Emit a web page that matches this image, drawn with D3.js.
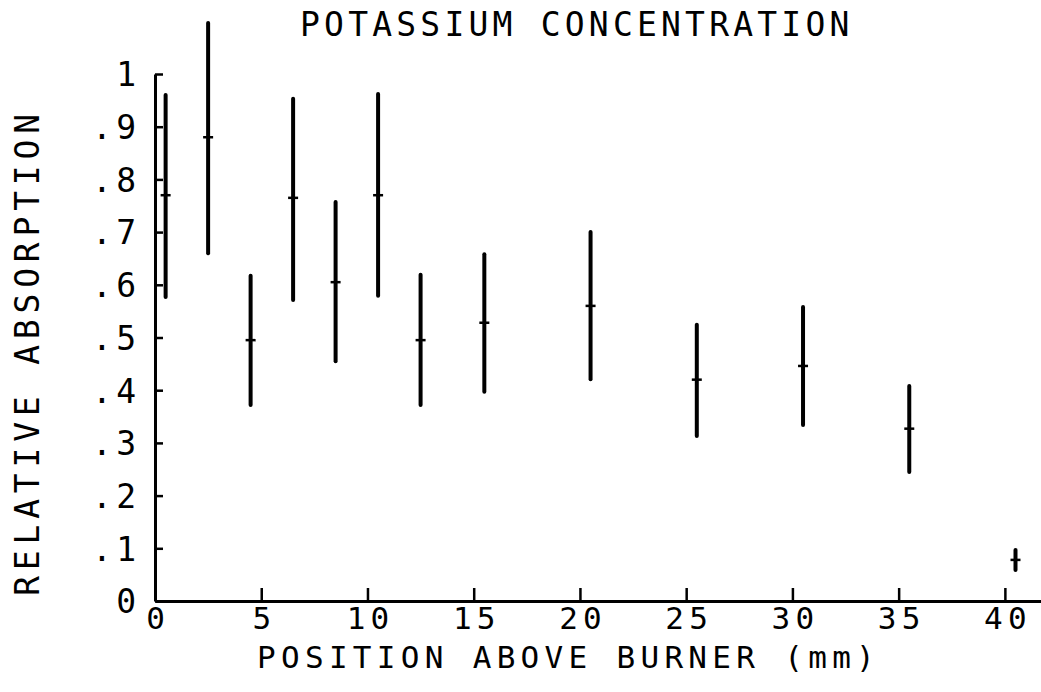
<!DOCTYPE html>
<html>
<head>
<meta charset="utf-8">
<script src="https://cdn.jsdelivr.net/npm/d3@7"></script>
<style>
  html, body { margin: 0; padding: 0; background: #fff; }
  svg text {
    font-family: "DejaVu Sans Mono", "Liberation Mono", monospace;
    fill: #000;
  }
</style>
</head>
<body>
<svg id="chart" width="1041" height="692"></svg>
<script>
// Data
var positions = [0.5, 2.5, 4.5, 6.5, 8.5, 10.5, 12.5, 15.5, 20.5, 25.5, 30.5, 35.5, 40.5];
var values = [0.77, 0.88, 0.495, 0.765, 0.605, 0.77, 0.495, 0.528, 0.56, 0.42, 0.446, 0.327, 0.078];
var lows = [0.577, 0.66, 0.372, 0.571, 0.455, 0.579, 0.372, 0.397, 0.421, 0.313, 0.334, 0.245, 0.059];
var highs = [0.96, 1.097, 0.617, 0.953, 0.757, 0.962, 0.619, 0.658, 0.70, 0.524, 0.558, 0.408, 0.097];

var xTicks = [0, 5, 10, 15, 20, 25, 30, 35, 40];
var yTicks = [0, 0.1, 0.2, 0.3, 0.4, 0.5, 0.6, 0.7, 0.8, 0.9, 1];
var yTickLabels = ['0', '.1', '.2', '.3', '.4', '.5', '.6', '.7', '.8', '.9', '1'];

var title = 'POTASSIUM CONCENTRATION';
var xTitle = 'POSITION ABOVE BURNER (mm)';
var yTitle = 'RELATIVE ABSORPTION';

var svg = d3.select('#chart');

var x = d3.scaleLinear().domain([0, 41.7]).range([155, 1041]);
var y = d3.scaleLinear().domain([0, 1]).range([601, 74]);

var fontSize = 33;
var spacing = 4.2;
// bottom texts a bit smaller so tick labels and axis title don't collide
var smallSize = 31;
var smallSpacing = 5.3;

// Axes, ticks pointing inward
var xAxis = d3.axisBottom(x)
  .tickValues(xTicks)
  .tickFormat(function(d) { return String(d); })
  .tickSizeInner(-13)
  .tickSizeOuter(0)
  .tickPadding(6);

var yAxis = d3.axisLeft(y)
  .tickValues(yTicks)
  .tickFormat(function(d, i) { return yTickLabels[i]; })
  .tickSizeInner(-8)
  .tickSizeOuter(0)
  .tickPadding(19);

var gx = svg.append('g')
  .attr('transform', 'translate(0,' + y(0) + ')')
  .call(xAxis);

var gy = svg.append('g')
  .attr('transform', 'translate(' + x(0) + ',0)')
  .call(yAxis);

[gx, gy].forEach(function(g) {
  g.select('.domain').attr('stroke', '#000').attr('stroke-width', 3);
  g.selectAll('.tick line').attr('stroke', '#000').attr('stroke-width', 2.5);
  g.selectAll('.tick text').attr('fill', '#000');
});

gx.selectAll('.tick text')
  .attr('font-size', smallSize)
  .style('letter-spacing', smallSpacing + 'px')
  .attr('dx', smallSpacing / 2);

gy.selectAll('.tick text')
  .attr('font-size', fontSize)
  .style('letter-spacing', spacing + 'px')
  .attr('dy', '0.36em')
  .attr('dx', spacing);

// Error bars
var bars = svg.append('g').selectAll('g.bar')
  .data(positions.map(function(p, i) {
    return { x: p, v: values[i], lo: lows[i], hi: highs[i] };
  }))
  .enter().append('g')
  .attr('class', 'bar');

bars.append('line')
  .attr('x1', function(d) { return x(d.x); })
  .attr('x2', function(d) { return x(d.x); })
  .attr('y1', function(d) { return y(d.lo); })
  .attr('y2', function(d) { return y(d.hi); })
  .attr('stroke', '#000')
  .attr('stroke-width', 4)
  .attr('stroke-linecap', 'round');

bars.append('line')
  .attr('x1', function(d) { return x(d.x) - 5; })
  .attr('x2', function(d) { return x(d.x) + 5; })
  .attr('y1', function(d) { return y(d.v); })
  .attr('y2', function(d) { return y(d.v); })
  .attr('stroke', '#000')
  .attr('stroke-width', 2.5);

// Titles
svg.append('text')
  .attr('x', 300)
  .attr('y', 36)
  .attr('font-size', fontSize)
  .style('letter-spacing', spacing + 'px')
  .text(title);

svg.append('text')
  .attr('x', 257)
  .attr('y', 668)
  .attr('font-size', smallSize)
  .style('letter-spacing', smallSpacing + 'px')
  .text(xTitle);

svg.append('text')
  .attr('transform', 'translate(39,' + 352 + ') rotate(-90)')
  .attr('text-anchor', 'middle')
  .attr('font-size', fontSize)
  .style('letter-spacing', '5.8px')
  .text(yTitle);
</script>
</body>
</html>
